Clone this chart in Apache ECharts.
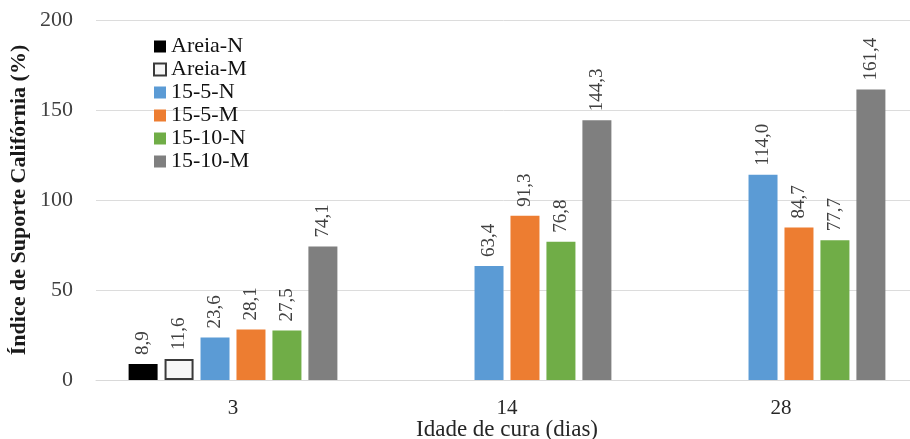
<!DOCTYPE html>
<html>
<head>
<meta charset="utf-8">
<script src="https://cdn.jsdelivr.net/npm/echarts@6/dist/echarts.min.js"></script>
<style>html,body{margin:0;padding:0;background:#fff}#c{width:910px;height:439px}</style>
</head>
<body>
<div id="c"></div>
<script>
var categories = ['3', '14', '28'];
var seriesNames = ['Areia-N', 'Areia-M', '15-5-N', '15-5-M', '15-10-N', '15-10-M'];
var areiaN = [8.9, null, null];
var areiaM = [11.6, null, null];
var s15_5N = [23.6, 63.4, 114.0];
var s15_5M = [28.1, 91.3, 84.7];
var s15_10N = [27.5, 76.8, 77.7];
var s15_10M = [74.1, 144.3, 161.4];
var yTicks = [0, 50, 100, 150, 200];

var values = [areiaN, areiaM, s15_5N, s15_5M, s15_10N, s15_10M];
var fills = ['#000000', '#f7f7f7', '#5b9bd5', '#ed7d31', '#70ad47', '#7f7f7f'];
var borders = ['#000000', '#3a3a3a', '#5b9bd5', '#ed7d31', '#70ad47', '#7f7f7f'];
var borderW = [0, 2, 0, 0, 0, 0];
var serif = '"Liberation Serif", "Times New Roman", serif';

var chart = echarts.init(document.getElementById('c'));
var series = seriesNames.map(function (n, i) {
  return {
    name: n,
    type: 'bar',
    data: values[i],
    barWidth: 29,
    barGap: '24%',
    itemStyle: { color: fills[i], borderColor: borders[i], borderWidth: borderW[i] },
    label: {
      show: true,
      position: 'top',
      rotate: 90,
      align: 'left',
      verticalAlign: 'middle',
      distance: 9,
      fontFamily: serif,
      fontSize: 19,
      color: '#404040',
      formatter: function (p) { return p.value == null ? '' : p.value.toFixed(1).replace('.', ','); }
    }
  };
});

chart.setOption({
  animation: false,
  backgroundColor: '#ffffff',
  grid: { left: 96, top: 20, width: 822, height: 360, outerBoundsMode: 'none', containLabel: false },
  legend: {
    orient: 'vertical',
    left: 148,
    top: 30,
    itemWidth: 12,
    itemHeight: 12,
    itemGap: 0,
    icon: 'rect',
    data: seriesNames,
    textStyle: { fontFamily: serif, fontSize: 22, color: '#111111', lineHeight: 23 }
  },
  xAxis: {
    type: 'category',
    data: categories,
    name: 'Idade de cura (dias)',
    nameLocation: 'middle',
    nameGap: 38,
    nameMoveOverlap: false,
    nameTextStyle: { fontFamily: serif, fontSize: 23, color: '#262626', verticalAlign: 'top' },
    axisLine: { lineStyle: { color: '#d9d9d9', width: 1 } },
    axisTick: { show: false },
    axisLabel: { fontFamily: serif, fontSize: 21, color: '#262626', margin: 18 }
  },
  yAxis: {
    type: 'value',
    min: yTicks[0],
    max: yTicks[yTicks.length - 1],
    interval: 50,
    name: 'Índice de Suporte Califórnia (%)',
    nameLocation: 'middle',
    nameGap: 66,
    nameMoveOverlap: false,
    nameTextStyle: { fontFamily: serif, fontSize: 22, fontWeight: 'bold', color: '#1a1a1a' },
    axisLine: { show: false },
    axisTick: { show: false },
    splitLine: { lineStyle: { color: '#dcdcdc', width: 1 } },
    axisLabel: { fontFamily: serif, fontSize: 22, color: '#404040', margin: 23 }
  },
  series: series
});
</script>
</body>
</html>
